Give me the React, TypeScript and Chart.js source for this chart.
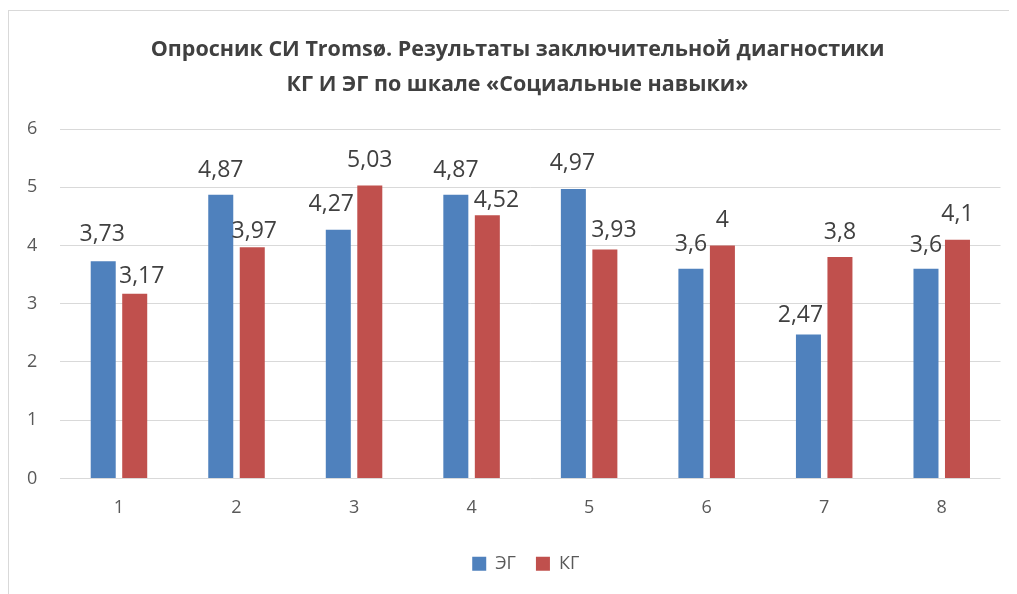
import React, { useEffect, useRef } from "react";
import { Chart, registerables } from "chart.js";

Chart.register(...registerables);

const categories = ["1", "2", "3", "4", "5", "6", "7", "8"];
const egValues = [3.73, 4.87, 4.27, 4.87, 4.97, 3.6, 2.47, 3.6];
const kgValues = [3.17, 3.97, 5.03, 4.52, 3.93, 4.0, 3.8, 4.1];
const seriesNames = ["ЭГ", "КГ"];
const titleLines = [
  "Опросник СИ Tromsø. Результаты заключительной диагностики",
  "КГ И ЭГ по шкале «Социальные навыки»",
];
const yTicks = [0, 1, 2, 3, 4, 5, 6];

// small nudges of data labels (Excel moved some to avoid overlap)
const egLabelShiftX = [-1, 0, -7, 0, -1, 0, -8, 0];
const egLabelShiftY = [-2, 0, 0, 0, -1, 1, 6, 2];
const kgLabelShiftX = [7, 2, 0, 9, 9, 0, 0, 0];
const kgLabelShiftY = [7, 9, 0, 10, 6, 0, 0, 0];

const FONT = "'Open Sans', 'Noto Sans', sans-serif";
const TEXT = "#595959";

const fmt = (v: number) => String(v).replace(".", ",");

const labelPlugin = {
  id: "barLabels",
  afterLayout(chart: any) {
    // Excel centres title and legend on the whole chart frame, not the plot
    if (chart.legend) {
      chart.legend.left += 21;
      chart.legend.right += 21;
    }
    if (chart.titleBlock) {
      chart.titleBlock.left += 12.8;
      chart.titleBlock.right += 12.8;
    }
  },
  afterDatasetsDraw(chart: any) {
    const ctx = chart.ctx;
    const shifts = [
      [egLabelShiftX, egLabelShiftY],
      [kgLabelShiftX, kgLabelShiftY],
    ];
    ctx.save();
    ctx.font = `23px ${FONT}`;
    ctx.fillStyle = "#404040";
    ctx.textAlign = "center";
    ctx.textBaseline = "alphabetic";
    chart.data.datasets.forEach((ds: any, di: number) => {
      const meta = chart.getDatasetMeta(di);
      meta.data.forEach((bar: any, i: number) => {
        const v = ds.data[i];
        const x = bar.x + shifts[di][0][i];
        const y = bar.y - 18.3 + shifts[di][1][i];
        ctx.fillText(fmt(v), x, y);
      });
    });
    ctx.restore();
  },
};

export default function App() {
  const ref = useRef<HTMLCanvasElement>(null);
  useEffect(() => {
    if (!ref.current) return;
    const chart = new Chart(ref.current, {
      type: "bar",
      data: {
        labels: categories,
        datasets: [
          {
            label: seriesNames[0],
            data: egValues,
            backgroundColor: "#4F81BD",
            categoryPercentage: 0.536,
            barPercentage: 0.794,
          },
          {
            label: seriesNames[1],
            data: kgValues,
            backgroundColor: "#C0504D",
            categoryPercentage: 0.536,
            barPercentage: 0.794,
          },
        ],
      },
      options: {
        animation: false,
        responsive: false,
        maintainAspectRatio: false,
        layout: { padding: { left: 0, right: 16.5, top: 0, bottom: 11.3 } },
        plugins: {
          title: {
            display: true,
            text: titleLines,
            color: "#404040",
            font: { family: FONT, size: 21.5, weight: "bold", lineHeight: 35 / 21.5 },
            padding: { top: 21, bottom: 27 },
          },
          legend: {
            position: "bottom",
            labels: {
              color: TEXT,
              font: { family: FONT, size: 18 },
              boxWidth: 14,
              boxHeight: 14,
              padding: 20,
            },
          },
          tooltip: { enabled: false },
        },
        scales: {
          x: {
            grid: { display: false, drawTicks: false },
            border: { display: false },
            ticks: { color: TEXT, font: { family: FONT, size: 18 }, padding: 19 },
            afterFit: (s: any) => {
              s.height = 56.3;
            },
          },
          y: {
            min: 0,
            max: 6,
            afterBuildTicks: (s: any) => {
              s.ticks = yTicks.map((v) => ({ value: v }));
            },
            grid: { color: "#d9d9d9", lineWidth: 1, drawTicks: false },
            border: { display: false },
            ticks: { color: TEXT, font: { family: FONT, size: 18 }, padding: 23 },
            afterFit: (s: any) => {
              s.width = 51.2;
            },
          },
        },
      },
      plugins: [labelPlugin],
    });
    return () => chart.destroy();
  }, []);
  return (
    <div style={{ paddingTop: 2 }}>
      <div
        style={{
          borderLeft: "1px solid #d9d9d9",
          borderTop: "1px solid #d9d9d9",
          width: 1008,
          height: 583,
        }}
      >
        <canvas ref={ref} width={1008} height={583} style={{ display: "block" }} />
      </div>
    </div>
  );
}
